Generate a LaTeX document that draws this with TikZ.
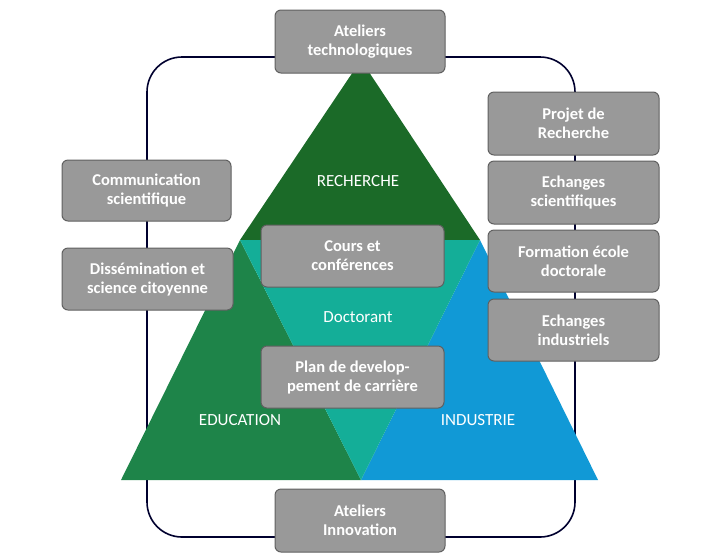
\documentclass[tikz,border=0pt]{standalone}
\usepackage{fontspec}
\setmainfont{Carlito}
\begin{document}
\begin{tikzpicture}[x=1pt,y=-1pt,
  gbox/.style={draw=gray!75!black,line width=1pt,fill=black!40,rounded corners=6pt,text=white,font=\fontsize{16.5}{19}\selectfont\bfseries,align=center,inner sep=0pt},
  lbl/.style={text=white,font=\fontsize{17}{20}\selectfont}]
\useasboundingbox (0,0) rectangle (719,558);
\definecolor{rech}{HTML}{1B6A28}
\definecolor{edu}{HTML}{1E8449}
\definecolor{ind}{HTML}{1199D6}
\definecolor{doc}{HTML}{14AE98}
\draw[color={black!70!blue!60!black},line width=1.6pt,rounded corners=35pt] (147,57) rectangle (575,537);
\fill[rech] (361,60) -- (480,240) -- (240,240) -- cycle;
\fill[edu] (240,240) -- (361,480) -- (121,480) -- cycle;
\fill[ind] (480,240) -- (598,480) -- (361,480) -- cycle;
\fill[doc] (240,240) -- (480,240) -- (361,480) -- cycle;
\node[lbl] (r) at (358,181) {RECHERCHE};
\node[lbl] (d) at (358,317) {Doctorant};
\node[lbl] (e) at (240,420) {EDUCATION};
\node[lbl] (i) at (478,420) {INDUSTRIE};
\node[gbox,minimum width=170,minimum height=63] (a1) at (360,41.5) {Ateliers\\technologiques};
\node[gbox,minimum width=171,minimum height=63] (p1) at (573.5,123.5) {Projet de\\Recherche};
\node[gbox,minimum width=171,minimum height=63] (p2) at (573.5,192.5) {Echanges\\scientifiques};
\node[gbox,minimum width=171,minimum height=62] (p3) at (573.5,261) {Formation école\\doctorale};
\node[gbox,minimum width=171,minimum height=62] (p4) at (573.5,330) {Echanges\\industriels};
\node[gbox,minimum width=169,minimum height=61] (c1) at (146.5,190.5) {Communication\\scientifique};
\node[gbox,minimum width=171,minimum height=62] (c2) at (147.5,279) {Dissémination et\\science citoyenne};
\node[gbox,minimum width=183,minimum height=62] (m1) at (352.5,256) {Cours et\\conférences};
\node[gbox,minimum width=183,minimum height=62] (m2) at (352.5,377) {Plan de develop-\\pement de carrière};
\node[gbox,minimum width=170,minimum height=63] (a2) at (360,520.5) {Ateliers\\Innovation};
\end{tikzpicture}
\end{document}
